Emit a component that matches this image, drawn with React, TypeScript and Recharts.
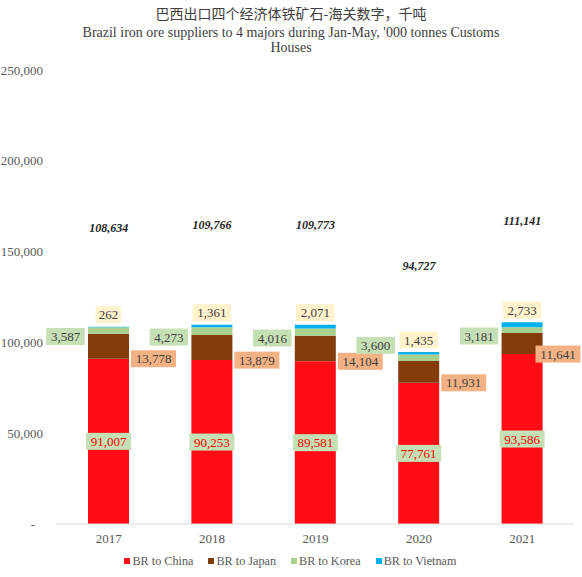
import React from "react";
import {
  ComposedChart,
  Bar,
  Line,
  XAxis,
  YAxis,
  Legend,
  LabelList,
} from "recharts";

// Brazil iron ore exports Jan-May, '000 tonnes
const years = ["2017", "2018", "2019", "2020", "2021"];
const toChina = [91007, 90253, 89581, 77761, 93586];
const toJapan = [13778, 13879, 14104, 11931, 11641];
const toKorea = [3587, 4273, 4016, 3600, 3181];
const toVietnam = [262, 1361, 2071, 1435, 2733];
const totals = [108634, 109766, 109773, 94727, 111141];
const yTicks = [0, 50000, 100000, 150000, 200000, 250000];

const seriesNames = ["BR to China", "BR to Japan", "BR to Korea", "BR to Vietnam"];
const seriesColors = ["#FF0D16", "#843C0C", "#A9D18E", "#00B0F0"];

const data = years.map((year, i) => ({
  year,
  china: toChina[i],
  japan: toJapan[i],
  korea: toKorea[i],
  vietnam: toVietnam[i],
  total: totals[i],
}));

const FONT = "'Liberation Serif', 'Times New Roman', serif";
const fmt = (v: number) => v.toLocaleString("en-US");

function BoxLabel({ cx, cy, text, fill, color }: any) {
  const w = text.length * 6.5 + 6;
  const h = 17;
  return (
    <g>
      <rect x={cx - w / 2} y={cy - h / 2} width={w} height={h} fill={fill} />
      <text
        x={cx}
        y={cy}
        dy="0.35em"
        textAnchor="middle"
        fontFamily={FONT}
        fontSize={13}
        fill={color}
      >
        {text}
      </text>
    </g>
  );
}

const chinaLabel = (p: any) => (
  <BoxLabel
    cx={p.x + p.width / 2}
    cy={p.y + p.height / 2}
    text={fmt(toChina[p.index])}
    fill="#C5E0B4"
    color="#FF0000"
  />
);

const japanLabel = (p: any) => (
  <BoxLabel
    cx={Math.min(p.x + p.width / 2 + 45, 558)}
    cy={p.y + p.height}
    text={fmt(toJapan[p.index])}
    fill="#F4B183"
    color="#404040"
  />
);

const koreaLabel = (p: any) => {
  const i = p.index;
  let cy = p.y + p.height / 2 + 6;
  // keep clear of the previous year's Japan label
  if (i > 0) {
    const scale = p.height / toKorea[i];
    const base = p.y + p.height + (toChina[i] + toJapan[i]) * scale;
    const prevJapan = base - toChina[i - 1] * scale;
    if (Math.abs(cy - prevJapan) < 18) cy = prevJapan - 16;
  }
  return (
    <BoxLabel
      cx={p.x + p.width / 2 - 43}
      cy={cy}
      text={fmt(toKorea[i])}
      fill="#C5E0B4"
      color="#404040"
    />
  );
};

const vietnamLabel = (p: any) => (
  <BoxLabel
    cx={p.x + p.width / 2}
    cy={p.y - 12}
    text={fmt(toVietnam[p.index])}
    fill="#FFF2CC"
    color="#404040"
  />
);

const totalLabel = (p: any) => (
  <text
    x={p.x}
    y={p.y}
    dy="0.35em"
    textAnchor="middle"
    fontFamily={FONT}
    fontSize={12}
    fontWeight="bold"
    fontStyle="italic"
    fill="#262626"
  >
    {fmt(totals[p.index])}
  </text>
);

const YTick = (p: any) => (
  <text
    x={p.payload.value === 0 ? p.x - 8 : p.x}
    y={p.y}
    dy="0.35em"
    textAnchor="end"
    fontFamily={FONT}
    fontSize={13}
    fill="#595959"
  >
    {p.payload.value === 0 ? "-" : fmt(p.payload.value)}
  </text>
);

const renderLegend = () => (
  <div
    style={{
      display: "flex",
      justifyContent: "center",
      alignItems: "center",
      fontFamily: FONT,
      fontSize: 12.2,
      color: "#595959",
      height: 24,
      paddingLeft: 14,
    }}
  >
    {seriesNames.map((name, i) => (
      <div key={name} style={{ display: "flex", alignItems: "center", marginRight: 15 }}>
        <span
          style={{
            width: 6,
            height: 6,
            background: seriesColors[i],
            display: "inline-block",
            marginRight: 2,
          }}
        />
        {name}
      </div>
    ))}
  </div>
);

export default function App() {
  return (
    <div style={{ position: "absolute", left: 0, top: 0, width: 582, height: 577, background: "#fff" }}>
      <ComposedChart
        width={582}
        height={577}
        data={data}
        margin={{ top: 70, right: 8, left: 0, bottom: 4 }}
      >
        <XAxis
          dataKey="year"
          axisLine={{ stroke: "#D9D9D9" }}
          tickLine={false}
          tickSize={0}
          tickMargin={10}
          height={25}
          tick={{ fontFamily: FONT, fontSize: 13, fill: "#595959" }}
        />
        <YAxis
          domain={[0, 250000]}
          ticks={yTicks}
          axisLine={false}
          tickLine={false}
          tickSize={0}
          tickMargin={14}
          width={57}
          tick={YTick}
        />
        <YAxis yAxisId="total" hide domain={[0, 250000 / 1.5]} />
        <Legend
          verticalAlign="bottom"
          height={24}
          content={renderLegend}
          wrapperStyle={{ left: 0, width: 582 }}
        />
        <Bar dataKey="china" stackId="a" fill={seriesColors[0]} barSize={41} isAnimationActive={false}>
          <LabelList dataKey="china" content={chinaLabel} />
        </Bar>
        <Bar dataKey="japan" stackId="a" fill={seriesColors[1]} barSize={41} isAnimationActive={false}>
          <LabelList dataKey="japan" content={japanLabel} />
        </Bar>
        <Bar dataKey="korea" stackId="a" fill={seriesColors[2]} barSize={41} isAnimationActive={false}>
          <LabelList dataKey="korea" content={koreaLabel} />
        </Bar>
        <Bar dataKey="vietnam" stackId="a" fill={seriesColors[3]} barSize={41} isAnimationActive={false}>
          <LabelList dataKey="vietnam" content={vietnamLabel} />
        </Bar>
        <Line
          yAxisId="total"
          dataKey="total"
          stroke="none"
          dot={false}
          activeDot={false}
          legendType="none"
          isAnimationActive={false}
        >
          <LabelList dataKey="total" content={totalLabel} />
        </Line>
      </ComposedChart>
      <div
        style={{
          position: "absolute",
          left: 0,
          top: 5,
          width: 582,
          textAlign: "center",
          fontFamily: "'Noto Sans CJK SC', sans-serif",
          fontSize: 14,
          lineHeight: "17px",
          color: "#404040",
        }}
      >
        巴西出口四个经济体铁矿石-海关数字，千吨
      </div>
      <div
        style={{
          position: "absolute",
          left: 0,
          top: 25,
          width: 582,
          textAlign: "center",
          fontFamily: FONT,
          fontSize: 14,
          lineHeight: "15px",
          color: "#404040",
        }}
      >
        Brazil iron ore suppliers to 4 majors during Jan-May, '000 tonnes Customs
        <br />
        Houses
      </div>
    </div>
  );
}
